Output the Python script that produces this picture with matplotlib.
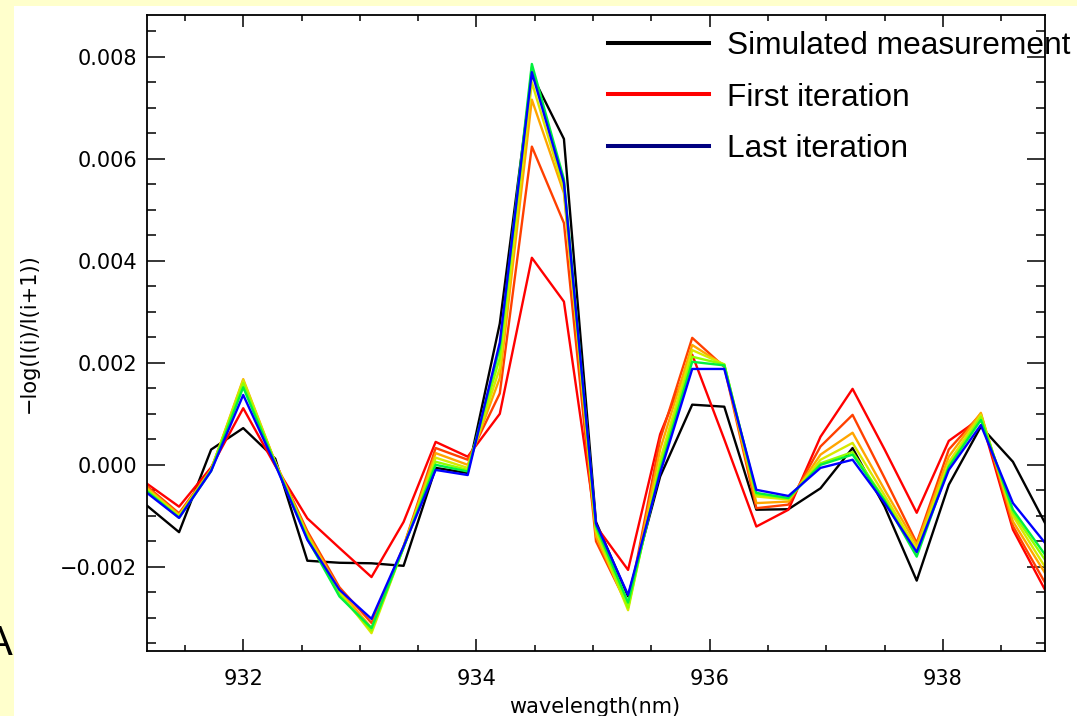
import matplotlib
matplotlib.use("Agg")
import matplotlib.pyplot as plt
from matplotlib.lines import Line2D
from matplotlib.patches import Rectangle
from matplotlib.ticker import MultipleLocator

# wavelength samples (nm)
wavelength = [931.175, 931.45, 931.725, 932.0, 932.275, 932.55, 932.825, 933.1,
              933.375, 933.65, 933.925, 934.2, 934.475, 934.75, 935.025, 935.3,
              935.575, 935.85, 936.125, 936.4, 936.675, 936.95, 937.225, 937.5,
              937.775, 938.05, 938.325, 938.6, 938.875]

simulated = [-0.0008, -0.00132, 0.0003, 0.00072, 0.00012, -0.00188, -0.00192, -0.00193,
             -0.00198, -0.00006, -0.00016, 0.00277, 0.00765, 0.00639, -0.00112, -0.00258,
             -0.00023, 0.00118, 0.00114, -0.00088, -0.00087, -0.00046, 0.00033, -0.00082,
             -0.00227, -0.00039, 0.00075, 0.00006, -0.00114]

iter1 = [-0.00037, -0.00082, -0.00005, 0.00111, -0.00002, -0.00105, -0.00163, -0.0022,
         -0.00112, 0.00045, 0.00016, 0.001, 0.00406, 0.0032, -0.0012, -0.00206,
         0.0006, 0.00216, 0.0005, -0.00121, -0.00088, 0.00055, 0.00149, 0.0003,
         -0.00094, 0.00047, 0.00092, -0.00127, -0.00245]
iter2 = [-0.00042, -0.00095, -0.00008, 0.0016, 0.00005, -0.0013, -0.0024, -0.0031,
         -0.0016, 0.00033, 0.0001, 0.0014, 0.00624, 0.00474, -0.0015, -0.00278,
         0.0005, 0.00249, 0.00192, -0.00085, -0.00078, 0.00036, 0.00098, -0.00026,
         -0.00153, 0.0003, 0.001, -0.0012, -0.00231]
iter3 = [-0.00045, -0.00098, -0.0001, 0.00168, 0.00005, -0.00135, -0.00245, -0.0032,
         -0.0016, 0.00023, 0.0, 0.0017, 0.00716, 0.00533, -0.0014, -0.0028,
         0.0003, 0.00235, 0.00195, -0.00075, -0.00072, 0.0002, 0.00063, -0.00049,
         -0.00157, 0.00016, 0.00102, -0.00111, -0.00212]
iter4 = [-0.00048, -0.001, -0.0001, 0.00166, 0.00004, -0.0014, -0.0025, -0.0033,
         -0.00162, 0.00014, -0.00006, 0.0019, 0.0075, 0.0054, -0.0013, -0.00285,
         0.0001, 0.00225, 0.00197, -0.00062, -0.00068, 0.0001, 0.00043, -0.0006,
         -0.00165, 0.00005, 0.00098, -0.001, -0.002]
iter5 = [-0.0005, -0.00102, -0.0001, 0.0016, 0.00003, -0.00142, -0.00255, -0.00325,
         -0.00162, 0.00006, -0.0001, 0.0021, 0.0078, 0.0055, -0.00125, -0.0028,
         0.0, 0.00212, 0.00197, -0.00058, -0.00066, 0.00003, 0.00025, -0.00068,
         -0.00172, -0.00002, 0.00094, -0.00094, -0.00186]
iter6 = [-0.00052, -0.00104, -0.00012, 0.00152, 0.00002, -0.00145, -0.00258, -0.0032,
         -0.00162, 0.0, -0.00013, 0.0023, 0.00786, 0.0056, -0.0012, -0.0027,
         -0.0001, 0.00202, 0.00195, -0.00055, -0.00065, 0.0, 0.0002, -0.0007,
         -0.0018, -0.00004, 0.00088, -0.00088, -0.00176]
last_iter = [-0.00055, -0.00104, -0.00012, 0.00137, 0.0, -0.00147, -0.00245, -0.00302,
             -0.0016, -0.0001, -0.0002, 0.0024, 0.0077, 0.00553, -0.00115, -0.00255,
             -0.00016, 0.00188, 0.00188, -0.00049, -0.00061, -0.00006, 0.0001, -0.00075,
             -0.00171, -0.0001, 0.00078, -0.00075, -0.00153]

iterations = [iter1, iter2, iter3, iter4, iter5, iter6, last_iter]
iter_colors = ['#FF0000', '#FF4000', '#FFA500', '#D8E800', '#90FF00', '#00F040', '#0000FF']

legend_labels = ['Simulated measurement', 'First iteration', 'Last iteration']
legend_colors = ['#000000', '#FF0000', '#000080']

W, H = 1077, 716
fig = plt.figure(figsize=(W / 100, H / 100), dpi=100, facecolor='#FFFFCC')
# white slide panel behind everything
fig.patches.append(Rectangle((14 / W, 0), 1, (H - 6) / H, transform=fig.transFigure,
                             facecolor='white', edgecolor='none', zorder=-10))

ax = fig.add_axes([147 / W, (H - 651) / H, (1045 - 147) / W, (651 - 15) / H])
ax.set_facecolor('white')

ax.plot(wavelength, simulated, color='black', lw=1.7)
for vals, c in zip(iterations, iter_colors):
    ax.plot(wavelength, vals, color=c, lw=1.7)

ax.set_xlim(wavelength[0], wavelength[-1])
ax.set_ylim(-0.00365, 0.00882)
ax.xaxis.set_major_locator(MultipleLocator(2))
ax.xaxis.set_minor_locator(MultipleLocator(0.5))
ax.yaxis.set_major_locator(MultipleLocator(0.002))
ax.yaxis.set_minor_locator(MultipleLocator(0.0005))
ax.yaxis.set_major_formatter(plt.FuncFormatter(lambda v, p: f"{v:.3f}".replace('-', '\u2212')))

ax.tick_params(axis='x', which='major', direction='in', length=8.6, width=1.1,
               top=True, labelsize=15, pad=13)
ax.tick_params(axis='x', which='minor', direction='in', length=4.3, width=1.1, top=True)
ax.tick_params(axis='y', which='major', direction='in', length=13, width=1.1,
               right=True, labelsize=15, pad=7)
ax.tick_params(axis='y', which='minor', direction='in', length=6.5, width=1.1, right=True)
for s in ax.spines.values():
    s.set_linewidth(1.3)

ax.set_xlabel('wavelength(nm)', fontsize=15)
ax.set_ylabel('\u2212log(I(i)/I(i+1))', fontsize=15)
ax.xaxis.set_label_coords(0.499, -0.073)
ax.yaxis.set_label_coords(-0.12, 0.5)

handles = [Line2D([], [], color=c, lw=2.9) for c in legend_colors]
leg = ax.legend(handles, legend_labels, loc='upper left',
                bbox_to_anchor=(608 / W, (H - 31) / H), bbox_transform=fig.transFigure,
                frameon=False, prop={'family': 'Liberation Sans', 'size': 22.8},
                handlelength=3.2, handletextpad=0.55, labelspacing=0.68,
                borderpad=0, borderaxespad=0)
leg.set_zorder(5)

fig.text(-15 / W, (H - 655) / H, 'A', fontsize=30, family='Liberation Sans',
         ha='left', va='baseline')

fig.savefig('out.png', dpi=100, facecolor=fig.get_facecolor())
